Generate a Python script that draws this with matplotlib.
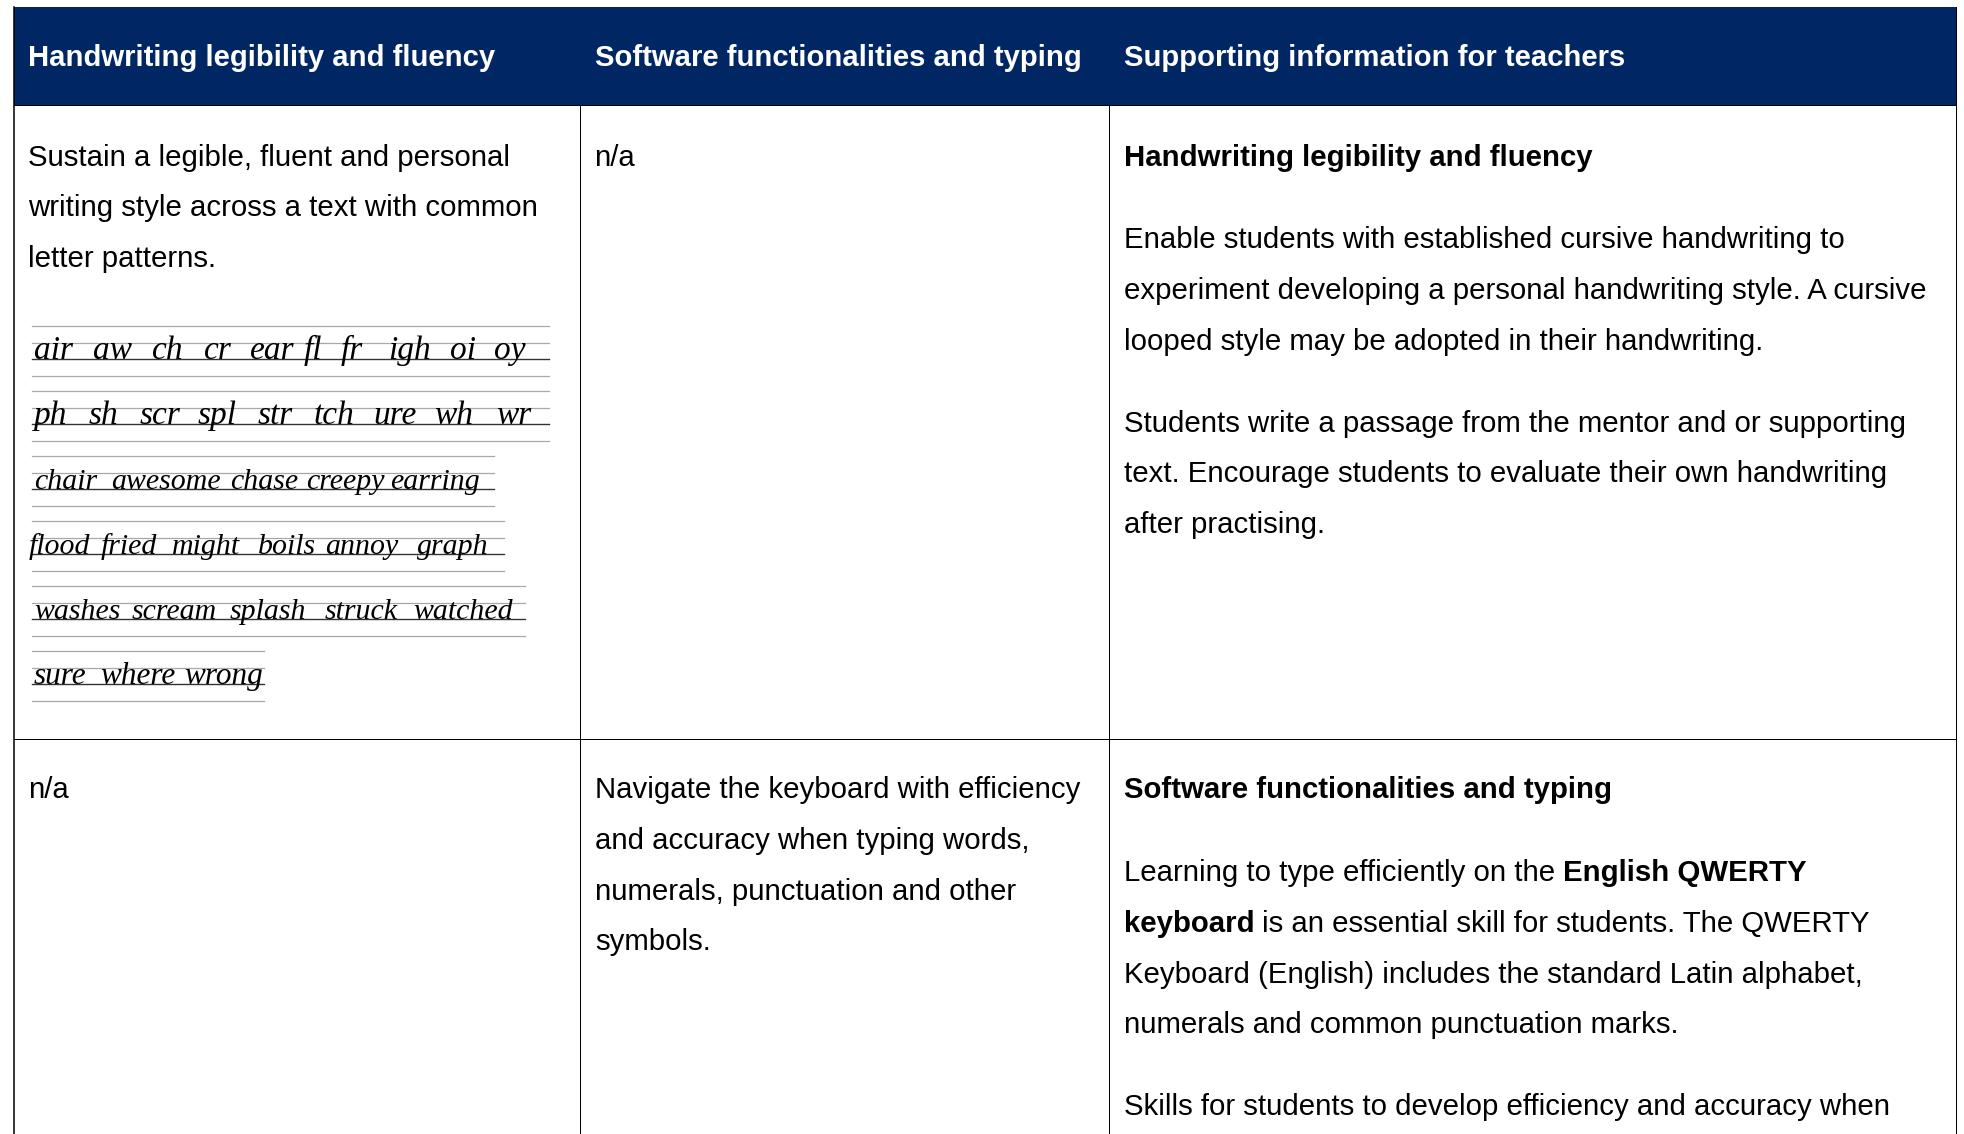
import matplotlib
matplotlib.use('Agg')
import matplotlib.pyplot as plt

plt.rcParams['font.family'] = ['Liberation Sans', 'DejaVu Sans']

# table grid, in pixels of the page
col_edges = [14.5, 580.5, 1109.5, 1956.5]
row_edges = [7, 105, 739, 1134]
col_text_x = [28, 595, 1124]

headers = ['Handwriting legibility and fluency',
           'Software functionalities and typing',
           'Supporting information for teachers']

# (x, baseline, text, bold)
body_runs = [
    (28, 166, 'Sustain a legible, fluent and personal', False),
    (28, 216, 'writing style across a text with common', False),
    (28, 267, 'letter patterns.', False),
    (594, 166, 'n/a', False),
    (1124, 166, 'Handwriting legibility and fluency', True),
    (1124, 248, 'Enable students with established cursive handwriting to', False),
    (1124, 299, 'experiment developing a personal handwriting style. A cursive', False),
    (1124, 350, 'looped style may be adopted in their handwriting.', False),
    (1124, 432, 'Students write a passage from the mentor and or supporting', False),
    (1124, 482, 'text. Encourage students to evaluate their own handwriting', False),
    (1124, 533, 'after practising.', False),
    (28, 798, 'n/a', False),
    (595, 798, 'Navigate the keyboard with efficiency', False),
    (595, 849, 'and accuracy when typing words,', False),
    (595, 900, 'numerals, punctuation and other', False),
    (595, 950, 'symbols.', False),
    (1124, 798, 'Software functionalities and typing', True),
    (1124, 881, 'Learning to type efficiently on the', False),
    (1563, 881, 'English QWERTY', True),
    (1124, 932, 'keyboard', True),
    (1262, 932, 'is an essential skill for students. The QWERTY', False),
    (1124, 983, 'Keyboard (English) includes the standard Latin alphabet,', False),
    (1124, 1033, 'numerals and common punctuation marks.', False),
    (1124, 1115, 'Skills for students to develop efficiency and accuracy when', False),
]

# handwriting practice lines: words, word start x, top ruled line y, rule extent
hw_words = [
    ['air', 'aw', 'ch', 'cr', 'ear', 'fl', 'fr', 'igh', 'oi', 'oy'],
    ['ph', 'sh', 'scr', 'spl', 'str', 'tch', 'ure', 'wh', 'wr'],
    ['chair', 'awesome', 'chase', 'creepy', 'earring'],
    ['flood', 'fried', 'might', 'boils', 'annoy', 'graph'],
    ['washes', 'scream', 'splash', 'struck', 'watched'],
    ['sure', 'where', 'wrong'],
]
hw_x = [
    [34, 93, 152, 204, 250, 304, 341, 388, 450, 494],
    [34, 89, 140, 198, 258, 314, 373, 434, 496],
    [34, 111, 230, 306, 390],
    [29, 101, 172, 258, 325, 417],
    [34, 132, 230, 325, 413],
    [34, 100, 184],
]
hw_top = [326, 391, 456, 521, 586, 651]
hw_rule_right = [549, 549, 494, 504, 525, 264]
hw_size = [24, 24, 21.5, 21.5, 21.5, 22.5]
hw_rule_gap = 16.7

fig = plt.figure(figsize=(19.64, 11.34), dpi=100)
ax = fig.add_axes([0, 0, 1, 1])
ax.set_xlim(0, 1964)
ax.set_ylim(1134, 0)
ax.axis('off')

# Header band
ax.fill_between([col_edges[0], col_edges[-1]], row_edges[0], row_edges[1], color='#002664', lw=0)
for x, h in zip(col_text_x, headers):
    ax.text(x, 66, h, color='white', fontsize=21.1, fontweight='bold', va='baseline')

# Grid lines
ax.plot([col_edges[0]] * 2, [row_edges[0], row_edges[-1]], color='black', lw=1.1)
ax.plot([col_edges[-1]] * 2, [row_edges[0], row_edges[-1]], color='black', lw=0.72)
for x in col_edges[1:-1]:
    ax.plot([x, x], [row_edges[1], row_edges[-1]], color='black', lw=0.72)
for y in row_edges[1:-1]:
    ax.plot([col_edges[0], col_edges[-1]], [y, y], color='black', lw=0.72)

# Body text
for x, y, s, bold in body_runs:
    ax.text(x, y, s, color='black', fontsize=21.2, va='baseline',
            fontweight='bold' if bold else 'normal')

# Ruled handwriting lines and words
for words, xs, top, right, size in zip(hw_words, hw_x, hw_top, hw_rule_right, hw_size):
    for i in range(4):
        y = top + i * hw_rule_gap
        ax.plot([32, right], [y, y], color='#333333' if i == 2 else '#a8a8a8',
                lw=1.0 if i == 2 else 0.9, zorder=1)
    for x, w in zip(xs, words):
        ax.text(x, top + 2 * hw_rule_gap, w, family='Liberation Serif', style='italic',
                color='black', fontsize=size, va='baseline', zorder=2)

fig.savefig('out.png', dpi=100, facecolor='white')
